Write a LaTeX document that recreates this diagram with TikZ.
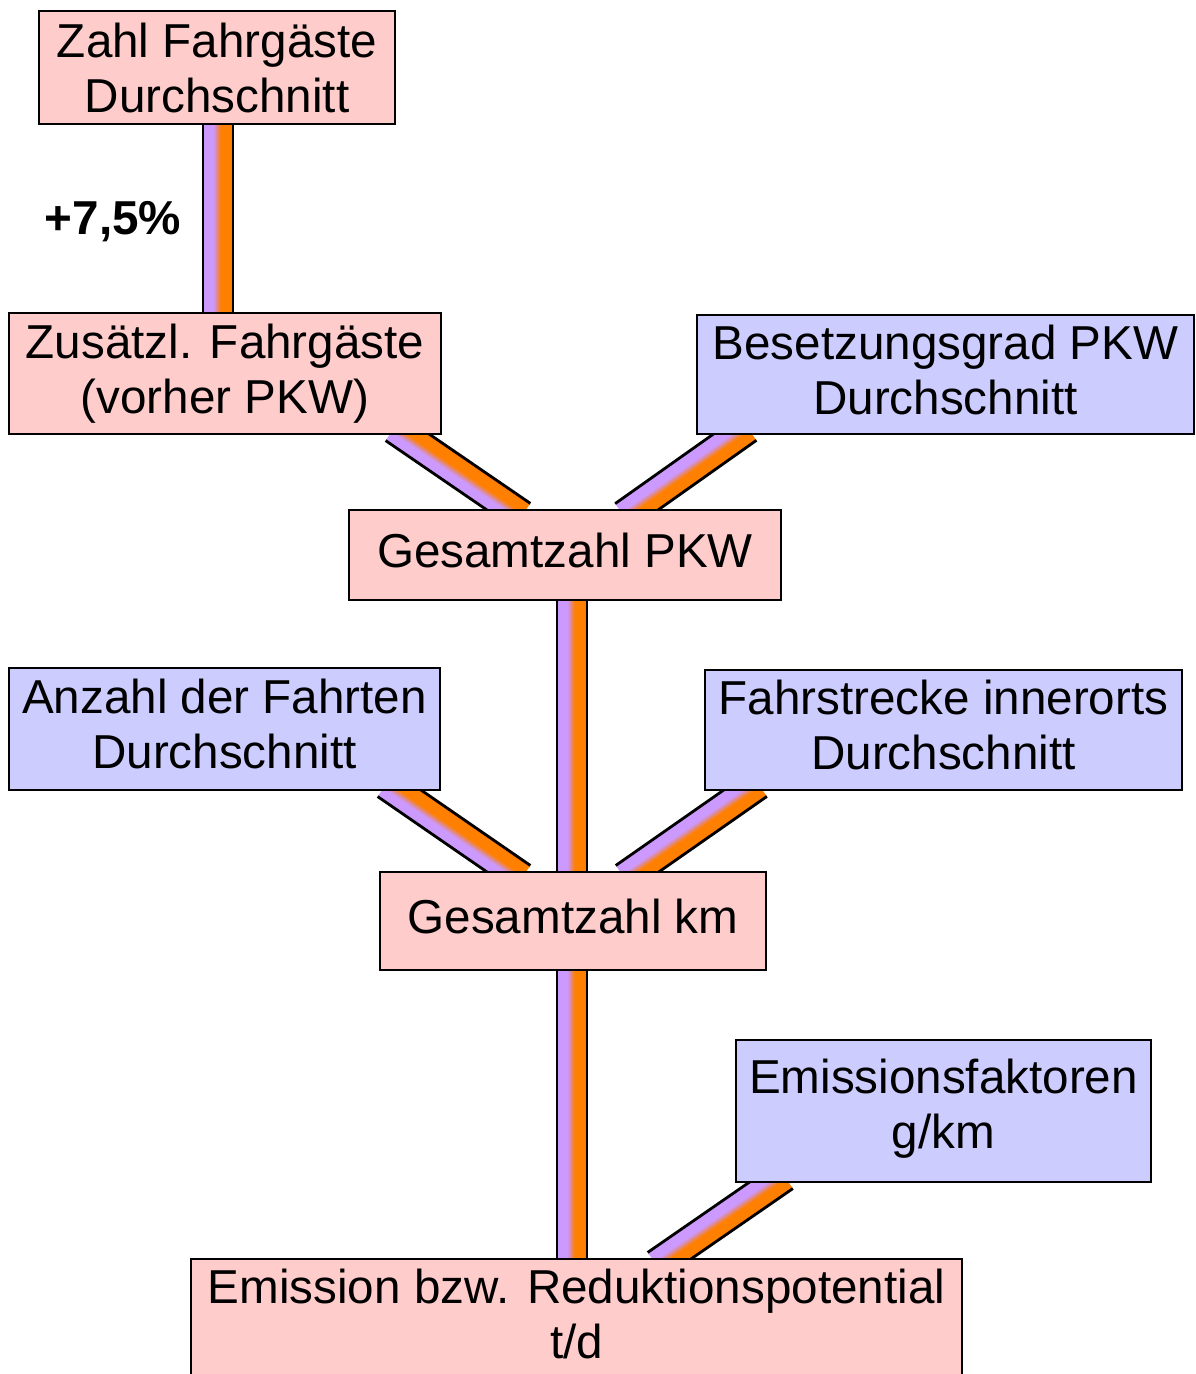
\documentclass[tikz,border=0pt]{standalone}
\usepackage{fontspec}
\setmainfont{Liberation Sans}
\usetikzlibrary{calc,backgrounds}
\definecolor{pinkbox}{RGB}{255,204,204}
\definecolor{bluebox}{RGB}{204,204,255}
\definecolor{bandP}{RGB}{204,153,255}
\definecolor{bandM}{RGB}{224,138,138}
\definecolor{bandO}{RGB}{255,128,0}
\definecolor{bandOd}{RGB}{255,100,0}
\pgfdeclareverticalshading{bandshade}{100bp}{color(0bp)=(bandP); color(25bp)=(bandP); color(42bp)=(bandP); color(48bp)=(bandM); color(54bp)=(bandO); color(71bp)=(bandO); color(75bp)=(bandOd); color(100bp)=(bandOd)}
\newcommand\drawband[2]{%
  \path let \p1=(#1), \p2=(#2), \p3=($(\p2)-(\p1)$),
    \n1={atan2(\y3,\x3)}, \n2={veclen(\x3,\y3)} in
    \pgfextra{\xdef\bandx{\x1}\xdef\bandy{\y1}\xdef\bandang{\n1}\xdef\bandlen{\n2}};
  \begin{scope}[transform canvas={shift={(\bandx,\bandy)}, rotate=\bandang}]
    \shade[shading=bandshade] (-6pt,-7.5pt) rectangle ({\bandlen+6pt},7.5pt);
    \draw[line width=1.4pt] (-6pt,-7.5pt) -- ({\bandlen+6pt},-7.5pt)
                          (-6pt,7.5pt) -- ({\bandlen+6pt},7.5pt);
  \end{scope}
}
\begin{document}
\begin{tikzpicture}[x=0.5pt,y=-0.5pt,
  box/.style={draw=black, line width=1pt, inner sep=0pt, align=center,
    text depth=5pt, font=\fontsize{23.8}{27.5}\selectfont},
  pbox/.style={box, fill=pinkbox},
  bbox/.style={box, fill=bluebox}]
\useasboundingbox (0,0) rectangle (1195,1374);
\clip (0,0) rectangle (1195,1374);

\node[pbox, text depth=0pt, minimum width=178pt, minimum height=56.5pt] (zfg) at (217,67.5) {Zahl Fahrgäste\\Durchschnitt};
\node[pbox, minimum width=216pt, minimum height=60.5pt] (zus) at (225,373.5) {Zusätzl. Fahrgäste\\(vorher PKW)};
\node[bbox, minimum width=248.5pt, minimum height=59.5pt] (bes) at (945.5,374.5) {Besetzungsgrad PKW\\Durchschnitt};
\node[pbox, minimum width=216pt, minimum height=45pt] (gpkw) at (565,555) {Gesamtzahl PKW};
\node[bbox, minimum width=215.5pt, minimum height=61pt] (anz) at (224.5,729) {Anzahl der Fahrten\\Durchschnitt};
\node[bbox, minimum width=238.5pt, minimum height=60pt] (fahr) at (943.5,730) {Fahrstrecke innerorts\\Durchschnitt};
\node[pbox, minimum width=193pt, minimum height=49pt] (gkm) at (573,921) {Gesamtzahl km};
\node[bbox, text depth=7.5pt, minimum width=207.5pt, minimum height=71pt] (emf) at (943.5,1111) {Emissionsfaktoren\\g/km};
\node[pbox, minimum width=385.5pt, minimum height=59.5pt] (emi) at (576.5,1318.5) {Emission bzw. Reduktionspotential\\t/d};

\node[font=\bfseries\fontsize{23.8}{27.5}\selectfont] (pct) at (113,222) {+7,5\%};

\coordinate (a1) at ($(zfg.south)+(1,0)$);
\coordinate (a2) at ($(zus.north)+(-7,0)$);
\coordinate (b1) at ($(zus.south)+(179,0)$);
\coordinate (b2) at ($(gpkw.north)+(-53,0)$);
\coordinate (c1) at ($(bes.south)+(-207.5,0)$);
\coordinate (c2) at ($(gpkw.north)+(68.5,0)$);
\coordinate (d1) at ($(gpkw.south)+(7,0)$);
\coordinate (d2) at ($(gkm.north)+(-1,0)$);
\coordinate (e1) at ($(anz.south)+(171.5,0)$);
\coordinate (e2) at ($(gkm.north)+(-61,0)$);
\coordinate (f1) at ($(fahr.south)+(-195,0)$);
\coordinate (f2) at ($(gkm.north)+(61,0)$);
\coordinate (g1) at ($(gkm.south)+(-1,0)$);
\coordinate (g2) at ($(emi.north)+(-4.5,0)$);
\coordinate (h1) at ($(emf.south)+(-169,0)$);
\coordinate (h2) at ($(emi.north)+(89.5,0)$);

\begin{pgfonlayer}{background}
\drawband{a1}{a2}
\drawband{b1}{b2}
\drawband{c1}{c2}
\drawband{d1}{d2}
\drawband{e1}{e2}
\drawband{f1}{f2}
\drawband{g1}{g2}
\drawband{h1}{h2}
\end{pgfonlayer}
\end{tikzpicture}
\end{document}
